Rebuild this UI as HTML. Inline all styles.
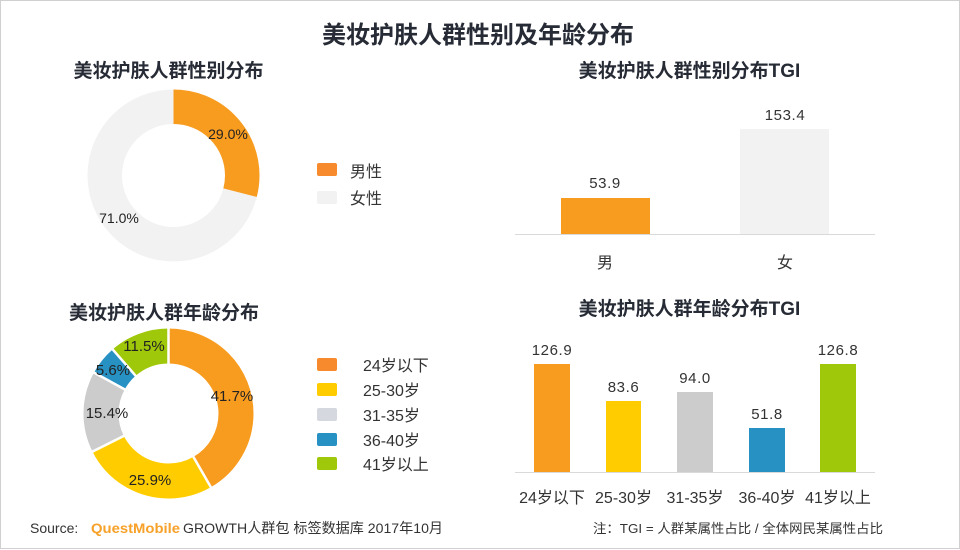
<!DOCTYPE html>
<html><head><meta charset="utf-8"><style>
html,body{margin:0;padding:0;background:#fff;}
svg{display:block;}
text{font-family:"Liberation Sans","Noto Sans CJK SC",sans-serif;}
.t{font-weight:bold;fill:#262b35;}
.v{font-size:15px;fill:#333;letter-spacing:0.6px;}
.c{font-size:16px;fill:#333;}
.lg{font-size:16px;fill:#333;}
.p{font-size:14px;fill:#222;}
</style></head><body>
<svg width="960" height="550" viewBox="0 0 960 550" xmlns="http://www.w3.org/2000/svg">
<rect x="0.5" y="0.5" width="959" height="548" fill="#fff" stroke="#d0d0d0" stroke-width="1"/>
<text class="t" x="478" y="43" font-size="24" text-anchor="middle">美妆护肤人群性别及年龄分布</text>

<!-- top-left donut -->
<text class="t" x="168.5" y="77" font-size="19" text-anchor="middle">美妆护肤人群性别分布</text>
<circle cx="173.5" cy="175.5" r="68.75" fill="none" stroke="#f2f2f2" stroke-width="34.5"/>
<circle cx="173.5" cy="175.5" r="68.75" fill="none" stroke="#f89c1f" stroke-width="34.5" stroke-dasharray="125.27 431.97" transform="rotate(-90 173.5 175.5)"/>
<text class="p" x="228" y="139" text-anchor="middle">29.0%</text>
<text class="p" x="119" y="223" text-anchor="middle">71.0%</text>
<rect x="317" y="163" width="20" height="13" rx="2" fill="#f68a2c"/>
<text class="lg" x="350" y="177">男性</text>
<rect x="317" y="191" width="20" height="13" rx="2" fill="#f2f2f2"/>
<text class="lg" x="350" y="204">女性</text>

<!-- top-right bar -->
<text class="t" x="689.5" y="77" font-size="19" text-anchor="middle">美妆护肤人群性别分布TGI</text>
<rect x="561" y="198" width="89" height="36" fill="#f89c1f"/>
<rect x="740" y="129" width="89" height="105" fill="#f2f2f2"/>
<line x1="515" y1="234.5" x2="875" y2="234.5" stroke="#d9d9d9" stroke-width="1"/>
<text class="v" x="605" y="188" text-anchor="middle">53.9</text>
<text class="v" x="785" y="120" text-anchor="middle">153.4</text>
<text class="c" x="605" y="268" text-anchor="middle">男</text>
<text class="c" x="785" y="268" text-anchor="middle">女</text>

<!-- bottom-left donut -->
<text class="t" x="164" y="319" font-size="19" text-anchor="middle">美妆护肤人群年龄分布</text>
<g transform="rotate(-90 168.5 413.5)" fill="none" stroke-width="35">
<circle cx="168.5" cy="413.5" r="67.5" stroke="#a0c80a" stroke-dasharray="0 375.35 48.77 0"/>
<circle cx="168.5" cy="413.5" r="67.5" stroke="#2891c3" stroke-dasharray="0 351.6 23.75 48.77"/>
<circle cx="168.5" cy="413.5" r="67.5" stroke="#cccccc" stroke-dasharray="0 286.71 65.31 72.1"/>
<circle cx="168.5" cy="413.5" r="67.5" stroke="#ffcc00" stroke-dasharray="0 176.86 109.85 137.4"/>
<circle cx="168.5" cy="413.5" r="67.5" stroke="#f89c1f" stroke-dasharray="176.86 247.26"/>
</g>
<g stroke="#fff" stroke-width="2.5">
<line x1="168.5" y1="365" x2="168.5" y2="326"/>
<line x1="192.91" y1="455.99" x2="211.84" y2="488.9"/>
<line x1="124.7" y1="435.47" x2="90.7" y2="452.5"/>
<line x1="125.56" y1="389.89" x2="92.3" y2="371.6"/>
<line x1="136.33" y1="376.54" x2="111.4" y2="347.9"/>
</g>
<g font-size="15" fill="#222" text-anchor="middle">
<text x="232" y="401">41.7%</text>
<text x="150" y="485">25.9%</text>
<text x="107" y="418">15.4%</text>
<text x="113" y="375">5.6%</text>
<text x="144" y="351">11.5%</text>
</g>
<rect x="317" y="358" width="20" height="13" rx="2" fill="#f68a2c"/>
<text class="lg" x="363" y="371">24岁以下</text>
<rect x="317" y="383" width="20" height="13" rx="2" fill="#ffcc00"/>
<text class="lg" x="363" y="396">25-30岁</text>
<rect x="317" y="408" width="20" height="13" rx="2" fill="#d5d8df"/>
<text class="lg" x="363" y="421">31-35岁</text>
<rect x="317" y="433" width="20" height="13" rx="2" fill="#2891c3"/>
<text class="lg" x="363" y="446">36-40岁</text>
<rect x="317" y="457" width="20" height="13" rx="2" fill="#a0c80a"/>
<text class="lg" x="363" y="470">41岁以上</text>

<!-- bottom-right bar -->
<text class="t" x="689.5" y="315" font-size="19" text-anchor="middle">美妆护肤人群年龄分布TGI</text>
<rect x="534" y="364" width="36" height="108" fill="#f89c1f"/>
<rect x="606" y="401" width="35" height="71" fill="#ffcc00"/>
<rect x="677" y="392" width="36" height="80" fill="#cccccc"/>
<rect x="749" y="428" width="36" height="44" fill="#2891c3"/>
<rect x="820" y="364" width="36" height="108" fill="#a0c80a"/>
<line x1="515" y1="472.5" x2="875" y2="472.5" stroke="#d9d9d9" stroke-width="1"/>
<text class="v" x="552" y="355" text-anchor="middle">126.9</text>
<text class="v" x="623.5" y="392" text-anchor="middle">83.6</text>
<text class="v" x="695" y="383" text-anchor="middle">94.0</text>
<text class="v" x="767" y="419" text-anchor="middle">51.8</text>
<text class="v" x="838" y="355" text-anchor="middle">126.8</text>
<text class="c" x="552" y="503" text-anchor="middle">24岁以下</text>
<text class="c" x="623.5" y="503" text-anchor="middle">25-30岁</text>
<text class="c" x="695" y="503" text-anchor="middle">31-35岁</text>
<text class="c" x="767" y="503" text-anchor="middle">36-40岁</text>
<text class="c" x="838" y="503" text-anchor="middle">41岁以上</text>
<text x="593" y="533" font-size="13" fill="#333" textLength="290" lengthAdjust="spacingAndGlyphs">注：TGI = 人群某属性占比 / 全体网民某属性占比</text>

<!-- source -->
<text x="30" y="533" font-size="14" fill="#333">Source:</text>
<text x="91" y="533" font-size="14" fill="#f7a128" font-weight="bold" textLength="89" lengthAdjust="spacingAndGlyphs">QuestMobile</text>
<text x="183" y="533" font-size="14" fill="#333" textLength="260" lengthAdjust="spacingAndGlyphs">GROWTH人群包 标签数据库 2017年10月</text>
</svg>
</body></html>
